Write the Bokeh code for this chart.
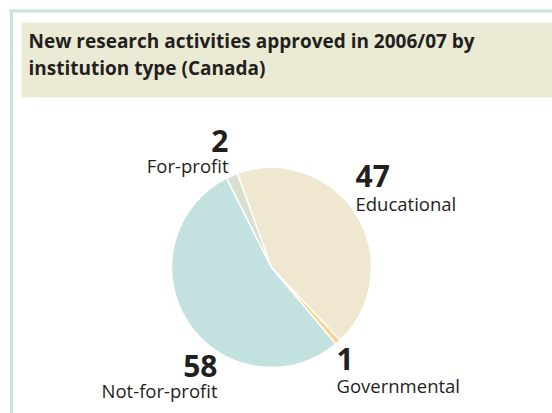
import math
from bokeh.plotting import figure
from bokeh.models import Range1d, ColumnDataSource
from bokeh.core.properties import value
from bokeh.embed import file_html
from bokeh.resources import INLINE

# ---- data ----
categories = ["Educational", "Governmental", "Not-for-profit", "For-profit"]
counts = [47, 1, 58, 2]
colors = ["#efe7d0", "#fdd38a", "#c3e2df", "#d8dfcc"]
title_lines = ["New research activities approved in 2006/07 by", "institution type (Canada)"]

W, H = 552, 413
FONT = "Open Sans"
DARK = "#231f20"


def X(sx):
    return sx


def Y(sy):
    return H - sy


def BL(sy, fs):
    # baseline correction (empirical)
    return Y(sy - 0.38 * fs)


p = figure(width=W, height=H, output_backend="svg", toolbar_location=None,
           x_range=Range1d(0, W), y_range=Range1d(0, H), min_border=0)
p.axis.visible = False
p.grid.visible = False
p.outline_line_color = None
p.background_fill_color = "white"
p.border_fill_color = "white"

# frame border (top & left visible)
p.segment(x0=[X(9), X(11)], y0=[Y(10.5), Y(9)], x1=[X(560), X(11)], y1=[Y(10.5), Y(420)],
          line_color="#c5e4dc", line_width=3)
# title background
p.quad(left=[X(21)], right=[X(560)], top=[Y(22)], bottom=[Y(97)],
       fill_color="#ebebd5", line_color=None)

TFS = 19
for i, t in enumerate(title_lines):
    p.text(x=[X(28)], y=[BL(48 + 27 * i, TFS)], text=[t], text_font=value(FONT),
           text_font_style="bold", text_font_size=f"{TFS}px", text_color=DARK,
           text_baseline="alphabetic", text_align="left")

# ---- pie ----
total = sum(counts)
theta0 = math.radians(90 + 20)
starts, ends = [], []
cum = 0.0
for c in counts:
    a = c / total * 2 * math.pi
    starts.append(theta0 - cum)
    ends.append(theta0 - cum - a)
    cum += a
src = ColumnDataSource(dict(cat=categories, n=counts, color=colors, start=starts, end=ends))
p.wedge(x=X(271), y=Y(267), radius=100, start_angle="start", end_angle="end",
        direction="clock", fill_color="color", line_color="white", line_width=1.5, source=src)

# ---- labels ----
NFS, LFS = 30, 18.5
label_pos = {
    "For-profit": (228, 152, 172, "right"),
    "Educational": (355, 187, 210, "left"),
    "Governmental": (336, 370, 392, "left"),
    "Not-for-profit": (217, 377, 397, "right"),
}
for cat, n in zip(categories, counts):
    sx, by_num, by_lab, al = label_pos[cat]
    p.text(x=[X(sx)], y=[BL(by_num, NFS)], text=[str(n)], text_font=value(FONT),
           text_font_style="bold", text_font_size=f"{NFS}px", text_color=DARK,
           text_baseline="alphabetic", text_align=al)
    p.text(x=[X(sx)], y=[BL(by_lab, LFS)], text=[cat], text_font=value(FONT),
           text_font_size=f"{LFS}px", text_color=DARK,
           text_baseline="alphabetic", text_align=al)

open("out.html", "w").write(file_html(p, INLINE))
